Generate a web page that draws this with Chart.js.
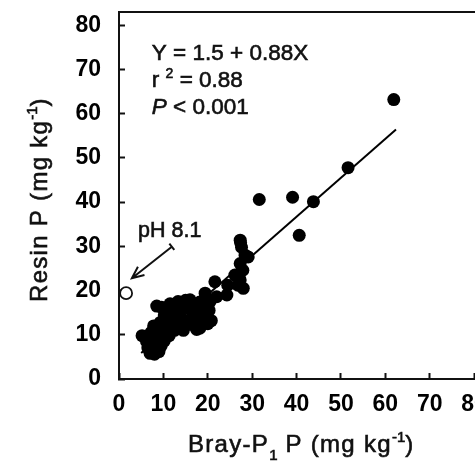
<!DOCTYPE html>
<html>
<head>
<meta charset="utf-8">
<script src="https://cdn.jsdelivr.net/npm/chart.js@4.4.1/dist/chart.umd.min.js"></script>
<style>
  html, body { margin: 0; padding: 0; background: #fff; overflow: hidden; }
  #wrap { width: 475px; height: 461px; overflow: hidden; }
</style>
</head>
<body>
<div id="wrap"><canvas id="myChart" width="520" height="461"></canvas></div>
<script>
// values
var brayX = [5.2, 6.2, 6.5, 7.0, 7.5, 8.0, 8.5, 9.0, 9.5, 7.2, 8.0, 8.8, 9.6, 10.2, 10.5,
  7.8, 8.6, 9.3, 10.0, 11.0, 11.3, 8.5, 9.6, 10.2, 11.0, 11.8, 12.2, 12.8, 12.5, 13.3,
  13.8, 14.0, 14.5, 15.0, 15.0, 16.0, 16.3, 16.5, 16.8, 17.2, 17.5, 18.2, 18.0, 18.5,
  18.2, 19.0, 19.3, 19.5, 20.0, 20.3, 20.8, 19.8, 19.4, 20.5, 22.0, 21.6, 24.3, 11.5,
  14.5, 13.0, 12.0,
  24.5, 26.1, 26.8, 27.3, 28.0, 27.9, 27.3, 29.1, 28.4, 27.3, 27.6, 27.4,
  31.6, 39.1, 40.6, 43.8, 51.6, 61.9];
var resinY = [9.8, 8.5, 7.0, 5.8, 6.5, 5.6, 6.8, 6.2, 7.5, 10.5, 9.0, 8.2, 9.2, 8.6, 10.4,
  12.0, 11.2, 12.8, 11.5, 12.0, 9.8, 16.5, 16.2, 14.5, 13.8, 15.2, 16.4, 13.2, 11.0, 17.5,
  15.5, 12.8, 11.0, 17.8, 13.2, 17.9, 15.8, 14.0, 12.2, 16.8, 11.2, 17.4, 15.2, 13.8,
  11.5, 16.5, 14.8, 13.3, 12.5, 15.5, 13.2, 18.2, 19.4, 17.5, 18.6, 22.0, 19.0, 17.0,
  16.8, 14.5, 12.5,
  21.2, 23.5, 21.2, 22.4, 20.5, 24.6, 26.1, 27.6, 28.0, 31.4, 29.8, 30.8,
  40.6, 41.1, 32.5, 40.1, 47.8, 63.2];

// the pH 8.1 soil (open symbol)
var outlierX = [1.6];
var outlierY = [19.4];

// fitted line Y = 1.5 + 0.88X, end points as drawn
var fitX = [5, 62.4];
var fitY = [5.9, 56.4];

var xTicks = [0, 10, 20, 30, 40, 50, 60, 70, 80];
var yTicks = [0, 10, 20, 30, 40, 50, 60, 70, 80];

function toPts(xs, ys) {
  return xs.map(function(x, i) { return { x: x, y: ys[i] }; });
}

function setFont(ctx, p, size, spacing) {
  var s = p.sub || p.sup ? Math.round(size * 0.62) : size;
  ctx.font = (p.italic ? "italic " : "") + s + "px 'Liberation Sans', Arial, sans-serif";
  ctx.letterSpacing = (p.sub || p.sup ? 0 : spacing) + "px";
  return s;
}
// text with sub / superscript pieces, slightly stroked so it reads as heavy as the scan
function richText(ctx, parts, x, y, size, spacing) {
  var cx = x;
  ctx.lineWidth = 0.6;
  parts.forEach(function(p) {
    setFont(ctx, p, size, spacing || 0);
    var dy = p.sub ? size * 0.32 : (p.sup ? -size * 0.42 : 0);
    ctx.fillText(p.t, cx, y + dy);
    ctx.strokeText(p.t, cx, y + dy);
    cx += ctx.measureText(p.t).width;
  });
  ctx.letterSpacing = "0px";
  return cx - x;
}

var extras = {
  id: "extras",
  afterDraw: function(chart) {
    var ctx = chart.ctx, xs = chart.scales.x, ys = chart.scales.y;
    ctx.save();
    ctx.fillStyle = "#111";
    ctx.strokeStyle = "#111";
    ctx.textBaseline = "alphabetic";
    ctx.textAlign = "left";

    // x title
    var xt = [{t: "Bray-P"}, {t: "1", sub: true}, {t: " P (mg kg"}, {t: "-1", sup: true}, {t: ")"}];
    richText(ctx, xt, 188, 452, 24, 1.3);

    // y title
    var yt = [{t: "Resin P (mg kg"}, {t: "-1", sup: true}, {t: ")"}];
    ctx.save();
    ctx.translate(47, 302);
    ctx.rotate(-Math.PI / 2);
    richText(ctx, yt, 0, 0, 24, 1.3);
    ctx.restore();

    // statistics
    var sx = xs.getPixelForValue(7.4);
    richText(ctx, [{t: "Y = 1.5 + 0.88X"}], sx, ys.getPixelForValue(72.1), 22.5);
    richText(ctx, [{t: "r "}, {t: "2", sup: true}, {t: " = 0.88"}], sx, ys.getPixelForValue(66.0), 22.5);
    richText(ctx, [{t: "P", italic: true}, {t: " < 0.001"}], sx, ys.getPixelForValue(59.9), 22.5);

    // pH label and arrow
    richText(ctx, [{t: "pH 8.1"}], xs.getPixelForValue(4.3), ys.getPixelForValue(32.1), 21.5);
    var tx = xs.getPixelForValue(11.9), ty = ys.getPixelForValue(29.9);
    var hx = xs.getPixelForValue(2.9), hy = ys.getPixelForValue(22.8);
    var ang = Math.atan2(hy - ty, hx - tx);
    ctx.lineWidth = 2;
    ctx.beginPath();
    ctx.moveTo(tx, ty); ctx.lineTo(hx, hy);
    // T end
    ctx.moveTo(tx + 4 * Math.cos(ang + Math.PI / 2), ty + 4 * Math.sin(ang + Math.PI / 2));
    ctx.lineTo(tx - 4 * Math.cos(ang + Math.PI / 2), ty - 4 * Math.sin(ang + Math.PI / 2));
    // open head
    var hl = 13, ha = 0.42;
    ctx.moveTo(hx - hl * Math.cos(ang - ha), hy - hl * Math.sin(ang - ha));
    ctx.lineTo(hx, hy);
    ctx.lineTo(hx - hl * Math.cos(ang + ha), hy - hl * Math.sin(ang + ha));
    ctx.stroke();
    ctx.restore();
  }
};

var ctx = document.getElementById("myChart").getContext("2d");
var tickFont = { family: "'Liberation Sans', Arial, sans-serif", size: 23, weight: "bold" };

var myChart = new Chart(ctx, {
  type: "scatter",
  data: {
    datasets: [
      {
        data: toPts(brayX, resinY),
        backgroundColor: "#000",
        borderWidth: 0,
        pointRadius: 6.5,
        order: 1
      },
      {
        data: toPts(outlierX, outlierY),
        backgroundColor: "#fff",
        borderColor: "#111",
        borderWidth: 1.8,
        pointRadius: 6,
        clip: false,
        order: 0
      },
      {
        data: toPts(fitX, fitY),
        showLine: true,
        borderColor: "#000",
        borderWidth: 2,
        pointRadius: 0,
        order: 2
      }
    ]
  },
  options: {
    responsive: false,
    animation: false,
    layout: { padding: { left: 0, right: 37, top: 0, bottom: 0 } },
    plugins: { legend: { display: false }, tooltip: { enabled: false } },
    scales: {
      x: {
        type: "linear", position: "bottom",
        min: 0, max: 82,
        afterBuildTicks: function(s) { s.ticks = xTicks.map(function(v) { return { value: v }; }); },
        afterFit: function(s) { s.height = 82; s.paddingLeft = 0; s.paddingRight = 0; },
        ticks: { font: tickFont, color: "#000", padding: 18, maxRotation: 0, autoSkip: false },
        grid: { drawOnChartArea: false, tickLength: -6, tickWidth: 2, color: "#111" },
        border: { display: true, width: 2, color: "#111" }
      },
      x2: {
        type: "linear", position: "top",
        min: 0, max: 82,
        afterFit: function(s) { s.height = 12; s.paddingLeft = 0; s.paddingRight = 0; },
        ticks: { display: false },
        grid: { display: false, drawTicks: false },
        border: { display: true, width: 2, color: "#111" }
      },
      y: {
        type: "linear", position: "left",
        min: 0, max: 83,
        afterBuildTicks: function(s) { s.ticks = yTicks.map(function(v) { return { value: v }; }); },
        afterFit: function(s) { s.width = 119; s.paddingTop = 0; s.paddingBottom = 0; },
        ticks: { font: tickFont, color: "#000", padding: 24 },
        grid: { drawOnChartArea: false, tickLength: -6, tickWidth: 2, color: "#111" },
        border: { display: true, width: 2, color: "#111" }
      }
    }
  },
  plugins: [extras]
});
</script>
</body>
</html>
